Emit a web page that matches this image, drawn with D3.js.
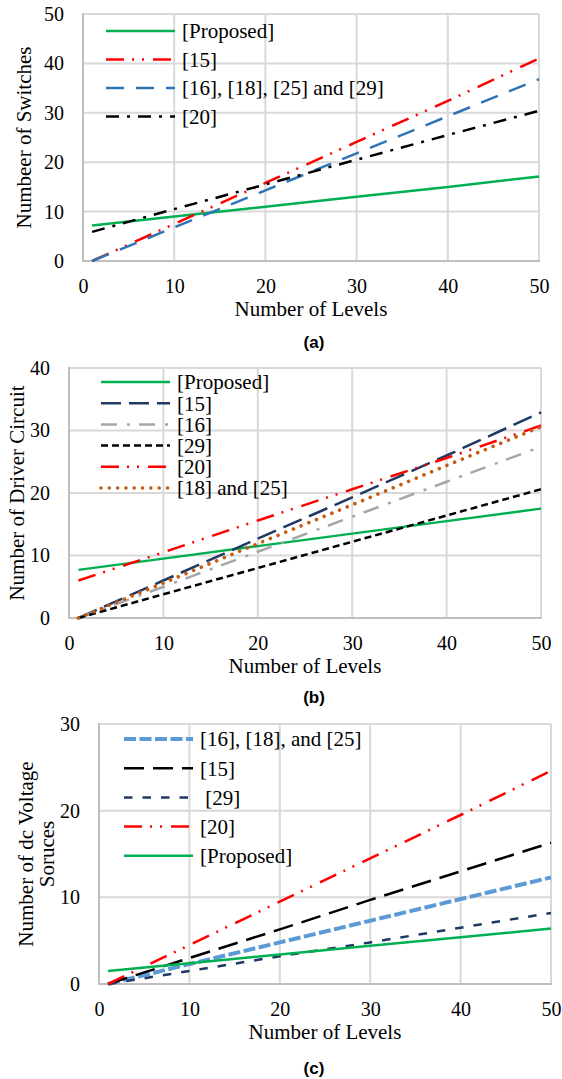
<!DOCTYPE html>
<html>
<head>
<meta charset="utf-8">
<script src="https://cdnjs.cloudflare.com/ajax/libs/d3/7.8.5/d3.min.js"></script>
<style>
  body { margin: 0; background: #fff; }
  svg { display: block; }
</style>
</head>
<body>
<script>
// x values shared by all three panels
const levels = [1, 10, 20, 30, 40, 50];
const xTicks = [0, 10, 20, 30, 40, 50];

// (a) switches
const swProposed = [7.2, 9.0, 11.0, 13.0, 15.0, 17.1];
const sw15 = [0, 7.5, 15.8, 24.1, 32.4, 41.0];
const sw16_18_25_29 = [0, 6.8, 14.3, 21.8, 29.3, 36.8];
const sw20 = [5.9, 10.5, 15.5, 20.5, 25.5, 30.4];
const swTicks = [0, 10, 20, 30, 40, 50];

// (b) driver circuits
const drvProposed = [7.7, 9.5, 11.5, 13.5, 15.5, 17.5];
const drv15 = [0, 6.0, 12.7, 19.3, 26.0, 32.9];
const drv16 = [0, 5.0, 10.6, 16.2, 21.8, 27.4];
const drv29 = [0, 3.8, 8.0, 12.2, 16.4, 20.6];
const drv20 = [6.0, 10.5, 15.6, 20.6, 25.6, 30.8];
const drv18_25 = [0, 5.6, 11.9, 18.1, 24.4, 30.6];
const drvTicks = [0, 10, 20, 30, 40];

// (c) dc sources
const dc16_18_25 = [0, 2.3, 4.8, 7.3, 9.8, 12.3];
const dc15 = [0, 3.0, 6.3, 9.7, 13.0, 16.3];
const dc29 = [0, 1.5, 3.2, 4.8, 6.5, 8.2];
const dc20 = [0, 4.5, 9.5, 14.5, 19.5, 24.6];
const dcProposed = [1.5, 2.4, 3.4, 4.4, 5.4, 6.4];
const dcTicks = [0, 10, 20, 30];

const SERIF = "'Liberation Serif', 'Times New Roman', serif";

//line styles
const GREEN = "#00b050", RED = "#ff0000";
const sty = {
  solidGreen: {color: GREEN, w: 2.5, dash: null},
  redDDot: {color: RED, w: 2.5, dash: "18,8,2,8,2,9"},
  blueLong: {color: "#2e75b6", w: 2.5, dash: "18,12"},
  blackDDot: {color: "#000", w: 2.5, dash: "13,8,3,8"},
  navyLong: {color: "#1f3864", w: 2.5, dash: "20,8"},
  greyDDot: {color: "#a6a6a6", w: 2.5, dash: "16,10,3,9"},
  blackShort: {color: "#000", w: 2.5, dash: "7,4"},
  orangeDot: {color: "#c55a11", w: 3.6, dash: "0.01,8.3", cap: "round"},
  lightBlue: {color: "#5b9bd5", w: 4, dash: "12,3.5"},
  blackLong: {color: "#000", w: 2.5, dash: "20,9"},
  navyDash: {color: "#1f3864", w: 2.5, dash: "8.5,10"}
};

const panels = [
  {
    box: {l: 83, r: 539, t: 14, b: 261}, yMax: 50, yTicks: swTicks,
    yTitle: ["Numbeer of Switches"], yTitleX: [31], caption: "(a)", captionY: 342,
    legend: {x1: 106, x2: 175, tx: 182, y0: 31, dy: 28.5},
    series: [
      {name: "[Proposed]", vals: swProposed, s: sty.solidGreen},
      {name: "[15]", vals: sw15, s: sty.redDDot},
      {name: "[16], [18], [25] and [29]", vals: sw16_18_25_29, s: sty.blueLong},
      {name: "[20]", vals: sw20, s: sty.blackDDot}
    ]
  },
  {
    box: {l: 69, r: 541, t: 368, b: 618}, yMax: 40, yTicks: drvTicks,
    yTitle: ["Number of Driver Circuit"], yTitleX: [24], caption: "(b)", captionY: 697,
    legend: {x1: 101, x2: 170, tx: 177, y0: 382, dy: 21.2},
    series: [
      {name: "[Proposed]", vals: drvProposed, s: sty.solidGreen},
      {name: "[15]", vals: drv15, s: sty.navyLong},
      {name: "[16]", vals: drv16, s: sty.greyDDot},
      {name: "[29]", vals: drv29, s: sty.blackShort},
      {name: "[20]", vals: drv20, s: sty.redDDot},
      {name: "[18] and [25]", vals: drv18_25, s: sty.orangeDot}
    ]
  },
  {
    box: {l: 99, r: 551, t: 724, b: 984}, yMax: 30, yTicks: dcTicks,
    yTitle: ["Number of dc Voltage", "Soruces"], yTitleX: [33, 54], caption: "(c)", captionY: 1068,
    legend: {x1: 124, x2: 193, tx: 200, y0: 739, dy: 29.2},
    series: [
      {name: "[16], [18], and [25]", vals: dc16_18_25, s: sty.lightBlue},
      {name: "[15]", vals: dc15, s: sty.blackLong},
      {name: " [29]", vals: dc29, s: sty.navyDash},
      {name: "[20]", vals: dc20, s: sty.redDDot},
      {name: "[Proposed]", vals: dcProposed, s: sty.solidGreen}
    ]
  }
];

const svg = d3.select("body").append("svg")
  .attr("width", 562).attr("height", 1079);

panels.forEach(p => {
  const b = p.box;
  const x = d3.scaleLinear().domain([0, 50]).range([b.l, b.r]);
  const y = d3.scaleLinear().domain([0, p.yMax]).range([b.b, b.t]);
  const g = svg.append("g");

  //grid
  g.selectAll(".hg").data(p.yTicks.filter(d => d > 0)).enter().append("line")
    .attr("x1", b.l).attr("x2", b.r).attr("y1", d => y(d)).attr("y2", d => y(d))
    .attr("stroke", "#d9d9d9").attr("stroke-width", 2);
  g.selectAll(".vg").data(xTicks.filter(d => d > 0)).enter().append("line")
    .attr("y1", b.t).attr("y2", b.b).attr("x1", d => x(d)).attr("x2", d => x(d))
    .attr("stroke", "#d9d9d9").attr("stroke-width", 2);
  g.append("line").attr("x1", b.l).attr("x2", b.l).attr("y1", b.t - 1).attr("y2", b.b + 1)
    .attr("stroke", "#bfbfbf").attr("stroke-width", 2);
  g.append("line").attr("x1", b.l).attr("x2", b.r + 1).attr("y1", b.b).attr("y2", b.b)
    .attr("stroke", "#bfbfbf").attr("stroke-width", 2);

  //axes labels
  const ya = g.append("g").attr("transform", "translate(" + b.l + ",0)")
    .call(d3.axisLeft(y).tickValues(p.yTicks).tickSize(0).tickPadding(19));
  const xa = g.append("g").attr("transform", "translate(0," + b.b + ")")
    .call(d3.axisBottom(x).tickValues(xTicks).tickSize(0).tickPadding(18));
  [ya, xa].forEach(a => {
    a.select(".domain").remove();
    a.attr("font-family", null).attr("font-size", null);
    a.selectAll("text").style("font-family", SERIF)
      .style("font-size", "20px").attr("fill", "#000");
  });

  g.append("text").attr("x", (b.l + b.r) / 2).attr("y", b.b + 55)
    .attr("text-anchor", "middle").style("font-family", SERIF).style("font-size", "21px")
    .text("Number of Levels");

  p.yTitle.forEach((t, i) => {
    g.append("text")
      .attr("transform", "translate(" + p.yTitleX[i] + "," + (b.t + b.b) / 2 + ") rotate(-90)")
      .attr("text-anchor", "middle").style("font-family", SERIF).style("font-size", "21px")
      .text(t);
  });

  g.append("text").attr("x", 314).attr("y", p.captionY)
    .attr("text-anchor", "middle").attr("dominant-baseline", "central")
    .style("font-family", "'Liberation Sans', Arial, sans-serif").style("font-weight", "bold")
    .style("font-size", "17px").text(p.caption);

  //series
  const line = d3.line().x((d, i) => x(levels[i])).y(d => y(d));
  p.series.forEach(s => {
    g.append("path").datum(s.vals).attr("d", line)
      .attr("fill", "none").attr("stroke", s.s.color).attr("stroke-width", s.s.w)
      .attr("stroke-dasharray", s.s.dash).attr("stroke-linecap", s.s.cap || "butt");
  });

  //legend
  const lg = g.append("g");
  p.series.forEach((s, i) => {
    const ly = p.legend.y0 + i * p.legend.dy;
    lg.append("line").attr("x1", p.legend.x1).attr("x2", p.legend.x2)
      .attr("y1", ly).attr("y2", ly)
      .attr("stroke", s.s.color).attr("stroke-width", s.s.w)
      .attr("stroke-dasharray", s.s.dash).attr("stroke-linecap", s.s.cap || "butt");
    lg.append("text").attr("x", p.legend.tx).attr("y", ly).attr("dy", "0.35em")
      .style("font-family", SERIF).style("font-size", "21px")
      .style("white-space", "pre").text(s.name);
  });
});
</script>
</body>
</html>
